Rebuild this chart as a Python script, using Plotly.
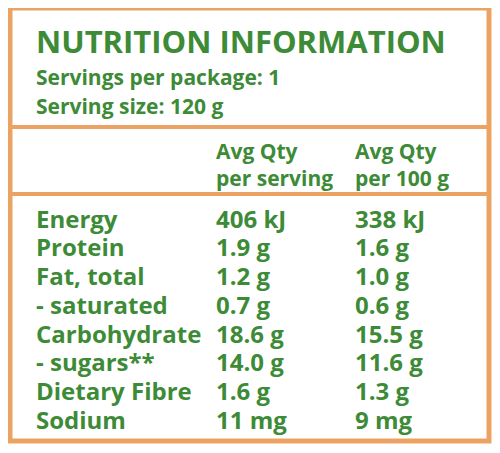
import plotly.graph_objects as go

GREEN = '#3d8b37'
ORANGE = '#eba363'

title = 'NUTRITION INFORMATION'
info_lines = ['Servings per package: 1', 'Serving size: 120 g']
headers = [['Avg Qty', 'per serving'], ['Avg Qty', 'per 100 g']]
nutrients = ['Energy', 'Protein', 'Fat, total', '- saturated', 'Carbohydrate',
             '- sugars**', 'Dietary Fibre', 'Sodium']
per_serving = ['406 kJ', '1.9 g', '1.2 g', '0.7 g', '18.6 g', '14.0 g', '1.6 g', '11 mg']
per_100g = ['338 kJ', '1.6 g', '1.0 g', '0.6 g', '15.5 g', '11.6 g', '1.3 g', '9 mg']

fig = go.Figure()
font = 'Open Sans'
OFF = 9  # compensate page margin


def txt(x, y, s, size):
    fig.add_annotation(x=x, y=y, text='<b>%s</b>' % s, showarrow=False,
                       xanchor='left', yanchor='middle', borderpad=0,
                       font=dict(family=font, size=size, color=GREEN))


txt(36, 42, title, 31)
txt(36, 78, info_lines[0], 21)
txt(36, 107, info_lines[1], 21)
for col, x in zip(headers, [216, 355]):
    txt(x, 152, col[0], 21)
    txt(x, 179, col[1], 21)
row_y = [219, 247, 276, 305, 334, 362, 391, 420]
for y, n, a, b in zip(row_y, nutrients, per_serving, per_100g):
    txt(36, y, n, 24)
    txt(216, y, a, 24)
    txt(355, y, b, 24)

fig.add_shape(type='rect', x0=11, y0=9, x1=490, y1=442,
              line=dict(color=ORANGE, width=5))
for y in [128, 195]:
    fig.add_shape(type='line', x0=11, x1=490, y0=y, y1=y,
                  line=dict(color=ORANGE, width=4))

fig.update_xaxes(range=[OFF, 500 + OFF], visible=False)
fig.update_yaxes(range=[453 + OFF, OFF], visible=False)
fig.update_layout(width=500, height=453, margin=dict(l=0, r=0, t=0, b=0),
                  plot_bgcolor='white', paper_bgcolor='white', showlegend=False)
fig.write_html('out.html')
